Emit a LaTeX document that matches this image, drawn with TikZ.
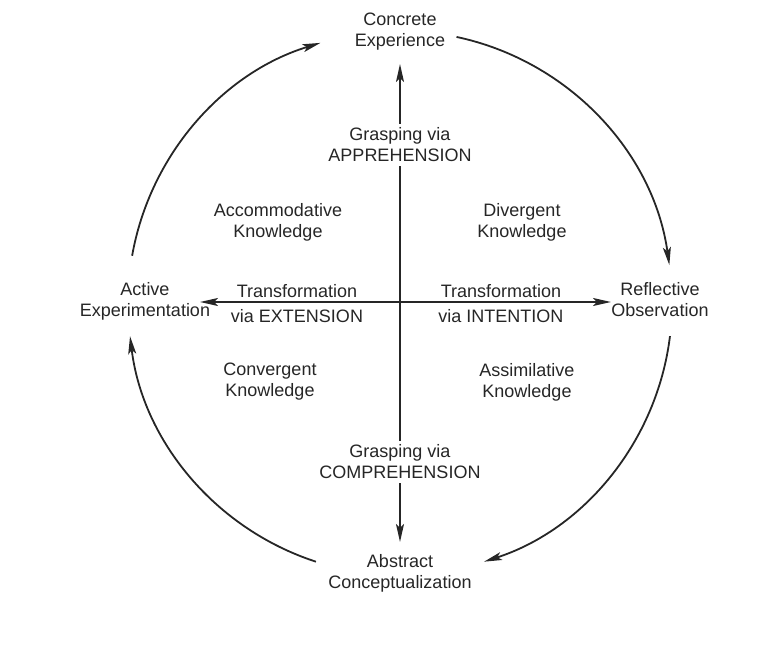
\documentclass[tikz,border=0pt]{standalone}
\usepackage{fontspec}
\setmainfont{Liberation Sans}
\usetikzlibrary{arrows.meta}
\definecolor{ink}{HTML}{262626}
\tikzset{
  lbl/.style={align=center, font=\fontsize{18}{21}\selectfont, text=ink, inner sep=2pt},
  lblw/.style={lbl, fill=white, inner sep=4pt},
  tip/.style={Stealth[length=18pt,width=8pt,inset=4pt]},
  arr/.style={draw=ink, line width=1.8pt, -{Stealth[length=18pt,width=8pt,inset=4pt]}},
  darr/.style={draw=ink, line width=1.8pt, {Stealth[length=18pt,width=8pt,inset=4pt]}-{Stealth[length=18pt,width=8pt,inset=4pt]}}
}
\begin{document}
\begin{tikzpicture}[x=1pt,y=1pt]
\useasboundingbox (0,0) rectangle (764,651);
\coordinate (c) at (400,348);
% cross endpoints
\coordinate (vt) at (400,587);
\coordinate (vb) at (400,109);
\coordinate (hl) at (200,349);
\coordinate (hr) at (611,349);
\draw[darr] (vb) -- (vt);
\draw[darr] (hl) -- (hr);
% pole nodes
\node[lbl] (CE) at (400,619) {Concrete\\Experience};
\node[lbl] (RO) at (660,351) {Reflective\\Observation};
\node[lbl] (AC) at (400,78) {Abstract\\Conceptualization};
\node[lbl] (AE) at (145,350) {Active\\Experimentation};
% axis labels
\node[lblw] (GA) at (400,506) {Grasping via\\APPREHENSION};
\node[lblw] (GC) at (400,189) {Grasping via\\COMPREHENSION};
\node[lbl] (TE) at (297,347) {Transformation\\[4pt]via EXTENSION};
\node[lbl] (TI) at (501,347) {Transformation\\[4pt]via INTENTION};
% quadrant labels
\node[lbl] (ACC) at (278,429) {Accommodative\\Knowledge};
\node[lbl] (DIV) at (522,429) {Divergent\\Knowledge};
\node[lbl] (CON) at (270,269) {Convergent\\Knowledge};
\node[lbl] (ASS) at (527,269) {Assimilative\\Knowledge};
% circle arcs
\draw[arr] ([shift={(170:272)}]c) arc[start angle=170, end angle=107, radius=272];
\draw[arr] ([shift={(78:272)}]c) arc[start angle=78, end angle=8, radius=272];
\draw[arr] ([shift={(-7:272)}]c) arc[start angle=-7, end angle=-72, radius=272];
\draw[arr] ([shift={(252:272)}]c) arc[start angle=252, end angle=187, radius=272];
\end{tikzpicture}
\end{document}
